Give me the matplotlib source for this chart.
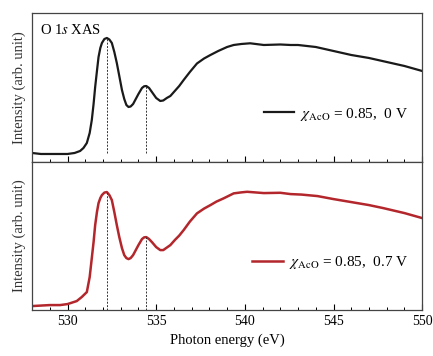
import matplotlib
matplotlib.use('Agg')
import matplotlib.pyplot as plt
from matplotlib.ticker import MultipleLocator

plt.rcParams['font.family'] = ['Liberation Serif', 'DejaVu Serif']
plt.rcParams['mathtext.fontset'] = 'stix'

# photon energy (eV) and intensity (arb. unit)
energy_0v = [528, 528.5, 529, 529.58, 530, 530.4, 530.71, 530.9, 531.09, 531.25,
             531.37, 531.47, 531.56, 531.66, 531.75, 531.85, 531.94, 532.08, 532.22,
             532.36, 532.5, 532.64, 532.78, 532.92, 533.07, 533.2, 533.32, 533.44,
             533.56, 533.7, 533.82, 534.0, 534.2, 534.32, 534.44, 534.6, 534.76,
             535.0, 535.23, 535.4, 535.6, 535.8, 536.05, 536.3, 536.55, 536.9, 537.3,
             537.7, 538.06, 538.5, 539, 539.37, 539.8, 540.3, 541.07, 542, 542.58, 543,
             544, 545, 546, 547, 548, 549, 550]
intensity_0v = [9, 8, 8, 8, 8, 9, 11, 14, 19, 29,
                42, 58, 75, 91, 105, 114, 119, 123, 124,
                122.5, 119, 110, 99, 86, 72, 63, 57, 55,
                55.5, 58, 62, 68, 74, 75.7, 76, 74, 70,
                64, 61, 61.5, 64, 66, 71, 76, 82, 90, 98.5,
                103.5, 107, 111, 115, 117, 118, 118.7, 117, 117.5, 117, 117,
                115, 111, 107, 104, 100, 96, 91]

energy_07v = [528, 528.5, 529, 529.58, 530, 530.52, 530.8, 531.09, 531.25,
              531.37, 531.47, 531.56, 531.66, 531.75, 531.85, 531.94, 532.08, 532.22,
              532.36, 532.5, 532.64, 532.78, 532.92, 533.07, 533.2, 533.32, 533.44,
              533.56, 533.7, 533.82, 534.0, 534.2, 534.32, 534.44, 534.6, 534.76,
              535.0, 535.23, 535.4, 535.6, 535.8, 536.05, 536.3, 536.55, 536.9, 537.3,
              537.7, 538.06, 538.4, 538.8, 539.37, 539.8, 540.13, 541.07, 542, 542.58,
              543.2, 544.1, 545, 546, 547, 547.8, 549, 550]
intensity_07v = [4, 4.5, 5, 5, 6, 9, 13, 18, 33,
                 52, 68, 85, 98, 107, 112, 115, 117.5, 118,
                 115, 110, 98, 85, 73, 62, 55, 52, 51,
                 52, 55, 59, 65, 71, 72.7, 73, 71, 68,
                 63, 60, 60, 62.5, 65, 70, 74.5, 80, 88.5, 96.7,
                 101.5, 105, 108.5, 111.7, 116.7, 117.7, 118.3, 117, 117.3, 116,
                 115.5, 114, 111, 108, 105, 102, 97, 92]

peak_energies = [532.25, 534.45]
peaks_0v = [124, 76]
peaks_07v = [118, 73]

fig = plt.figure(figsize=(4.33, 3.56), dpi=100)
ax1 = fig.add_axes([0.074, 0.545, 0.901, 0.4185])
ax2 = fig.add_axes([0.074, 0.129, 0.901, 0.4157])

red = '#b3272c'

ax1.plot(energy_0v, intensity_0v, color='#1a1a1a', lw=1.6,
         label=r'$\chi_{\rm AcO}$ = 0.85,  0 V')
ax2.plot(energy_07v, intensity_07v, color=red, lw=1.8,
         label=r'$\chi_{\rm AcO}$ = 0.85,  0.7 V')

ax1.vlines(peak_energies, 9, peaks_0v, colors='#333333', linestyles=(0, (2, 1.5)), lw=0.7)
ax2.vlines(peak_energies, 0, peaks_07v, colors='#333333', linestyles=(0, (2, 1.5)), lw=0.7)

ax1.set_ylim(0, 149)
ax2.set_ylim(0, 148)

for ax in (ax1, ax2):
    ax.set_xlim(528, 550)
    ax.xaxis.set_major_locator(MultipleLocator(5))
    ax.xaxis.set_minor_locator(MultipleLocator(1))
    ax.tick_params(axis='x', which='major', direction='in', length=4, width=0.8, labelsize=10)
    ax.tick_params(axis='x', which='minor', direction='in', length=2.5, width=0.7)
    ax.set_yticks([])
    ax.set_ylabel('Intensity (arb. unit)', fontsize=10.5, color='#333333', labelpad=4)
    for s in ax.spines.values():
        s.set_linewidth(0.9)
        s.set_color('#444444')
    ax.legend(loc='center right', bbox_to_anchor=(1.0, 0.32), frameon=False,
              fontsize=11, handlelength=2.0, handletextpad=0.4)

ax1.tick_params(axis='x', labelbottom=False)
ax1.text(0.02, 0.93, r'O 1$s$ XAS', transform=ax1.transAxes, fontsize=10.5,
         va='top', ha='left')
ax2.set_xlabel('Photon energy (eV)', fontsize=10.5)

fig.savefig('out.png', dpi=100)
